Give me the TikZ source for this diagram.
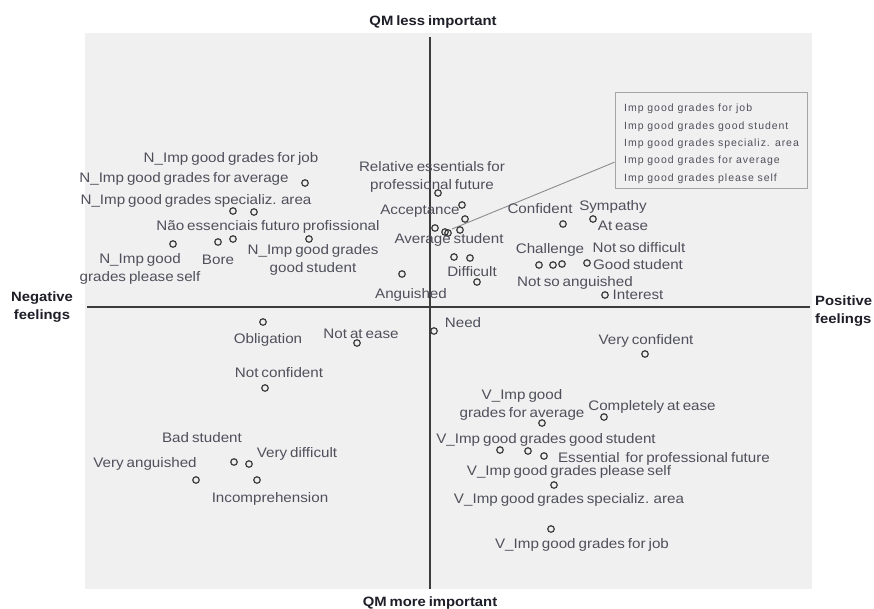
\documentclass[tikz,border=0pt]{standalone}
\usepackage{fontspec}
\setmainfont{Liberation Sans}[FakeStretch=1.1,WordSpace=0.7]
\newfontfamily\boxfont{Liberation Sans}[LetterSpace=9]
\usetikzlibrary{calc}
\definecolor{panelbg}{RGB}{240,240,240}
\definecolor{lbltext}{RGB}{80,80,92}
\definecolor{ptline}{RGB}{60,60,60}
\definecolor{axisline}{RGB}{60,60,60}
\definecolor{axtext}{RGB}{30,30,40}
\definecolor{boxline}{RGB}{165,165,165}
\definecolor{leadline}{RGB}{140,140,140}
\begin{document}
\begin{tikzpicture}[x=1pt,y=-1pt,
  lbl/.style={font=\fontsize{13.8}{18}\selectfont, text=lbltext, inner sep=0pt, text height=10pt, text depth=0pt},
  lbltwo/.style={font=\fontsize{13.8}{18}\selectfont, text=lbltext, inner sep=0pt, align=center},
  pt/.style={circle, draw=ptline, line width=1.2pt, minimum size=6.5pt, inner sep=0pt},
  axlbl/.style={font=\bfseries\fontsize{13.5}{18}\selectfont, text=axtext, inner sep=0pt, text height=10pt, text depth=0pt},
  axlbltwo/.style={font=\bfseries\fontsize{13.5}{18}\selectfont, text=axtext, inner sep=0pt},
  axis/.style={draw=axisline, line width=1.6pt},
  boxstyle/.style={draw=boxline, line width=1pt, fill=panelbg, minimum width=192pt, minimum height=96pt, inner sep=0pt},
  boxtxt/.style={font=\boxfont\fontsize{10.5}{17.3}\selectfont, text=lbltext, inner sep=0pt, align=left}
]
\useasboundingbox (0,0) rectangle (874,608);
\fill[white] (0,0) rectangle (874,608);
\node[fill=panelbg, minimum width=727pt, minimum height=556pt, inner sep=0pt, anchor=north west] (panel) at (85,33) {};

% axes
\coordinate (vtop) at (430,37);
\coordinate (vbot) at (430,589);
\coordinate (hleft) at (87,307);
\coordinate (hright) at (810,307);
\draw[axis] (vtop) -- (vbot);
\draw[axis] (hleft) -- (hright);

% axis labels
\node[axlbl] (qmless) at (433,20) {QM less important};
\node[axlbl] (qmmore) at (430,601) {QM more important};
\node[axlbltwo, align=center] (neg) at (42,307) {Negative\\feelings};
\node[axlbltwo, align=left, anchor=west] (pos) at (815,311) {Positive\\feelings};

% legend box
\node[boxstyle] (box) at (711,140) {};
\node[boxtxt, anchor=north west] (boxt) at (624,104) {Imp good grades for job\\Imp good grades good student\\Imp good grades specializ. area\\Imp good grades for average\\Imp good grades please self};
\coordinate (lead) at (452,229);
\draw[leadline, line width=0.9pt] ($(box.north west)!0.729!(box.south west)$) -- (lead);

% points
\foreach \px/\py [count=\i] in {305/183,233/211,254/212,173/244,218/242,233/239,309/239,
  438/193,462/205,465/219,435/228,445/232,448/233,460/230,
  454/257,470/258,477/282,402/274,
  563/224,593/219,539/265,553/265,562/264,587/263,605/295,
  263/322,357/343,434/331,645/354,265/388,
  542/423,604/417,500/450,528/451,544/456,554/485,551/529,
  234/462,249/464,196/480,257/480}
  \node[pt] (p\i) at (\px,\py) {};

% labels upper left
\node[lbl] (l1) at (231,157) {N\_Imp good grades for job};
\node[lbl] (l2) at (184,177) {N\_Imp good grades for average};
\node[lbl] (l3) at (196,199) {N\_Imp good grades specializ. area};
\node[lbl] (l4) at (268,225) {Não essenciais futuro profissional};
\node[lbltwo] (l5) at (140,269) {N\_Imp good\\grades please self};
\node[lbl] (l6) at (218,259) {Bore};
\node[lbltwo] (l7) at (313,260) {N\_Imp good grades\\good student};
\node[lbltwo] (l8) at (432,177) {Relative essentials for\\professional future};
\node[lbl] (l9) at (420,209) {Acceptance};
\node[lbl] (l10) at (449,238) {Average student};
\node[lbl] (l11) at (472,271) {Difficult};
\node[lbl] (l12) at (411,293) {Anguished};
% upper right
\node[lbl] (l13) at (540,208) {Confident};
\node[lbl] (l14) at (613,205) {Sympathy};
\node[lbl] (l15) at (623,225) {At ease};
\node[lbl] (l16) at (550,248) {Challenge};
\node[lbl] (l17) at (639,247) {Not so difficult};
\node[lbl] (l18) at (638,264) {Good student};
\node[lbl] (l19) at (575,281) {Not so anguished};
\node[lbl] (l20) at (638,294) {Interest};
% lower left
\node[lbl] (l21) at (268,338) {Obligation};
\node[lbl] (l22) at (361,333) {Not at ease};
\node[lbl] (l25) at (279,372) {Not confident};
\node[lbl] (l33) at (202,437) {Bad student};
\node[lbl] (l34) at (297,452) {Very difficult};
\node[lbl] (l35) at (145,462) {Very anguished};
\node[lbl] (l36) at (270,497) {Incomprehension};
% lower right
\node[lbl] (l23) at (463,322) {Need};
\node[lbl] (l24) at (646,339) {Very confident};
\node[lbltwo] (l26) at (522,405) {V\_Imp good\\grades for average};
\node[lbl] (l27) at (652,405) {Completely at ease};
\node[lbl] (l28) at (546,438) {V\_Imp good grades good student};
\node[lbl] (l29) at (664,457) {Essential\ \ for professional future};
\node[lbl] (l30) at (569,470) {V\_Imp good grades please self};
\node[lbl] (l31) at (569,498) {V\_Imp good grades specializ. area};
\node[lbl] (l32) at (582,543) {V\_Imp good grades for job};
\end{tikzpicture}
\end{document}
